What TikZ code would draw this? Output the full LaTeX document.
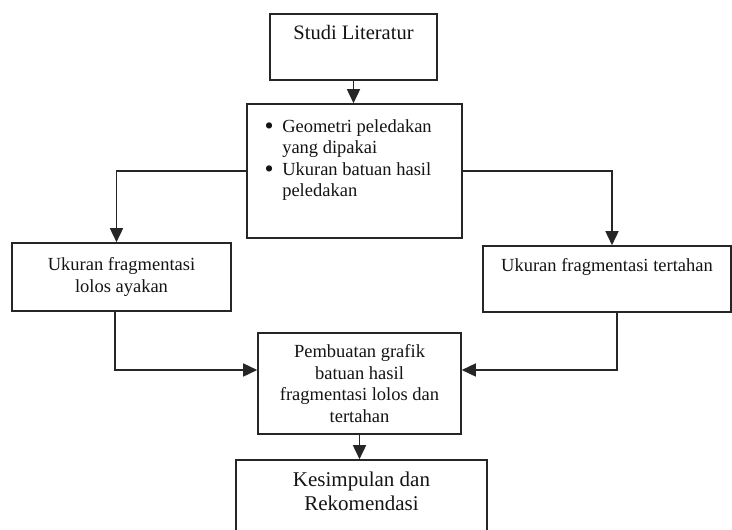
\documentclass[tikz,border=0pt]{standalone}
\usepackage{fontspec}
\setmainfont{Liberation Serif}
\usetikzlibrary{arrows.meta}
\newcommand{\bigbul}{\makebox[8pt]{\raisebox{-2pt}{\scalebox{1.4}{\textbullet}}}}
\begin{document}
\begin{tikzpicture}[x=1pt,y=-1pt,
  box/.style={draw=black!85, line width=1.6pt, rectangle, inner sep=0pt, align=center,
    text=black!92, font=\fontsize{18.5}{21.5}\selectfont},
  conn/.style={draw=black!85, line width=1.6pt},
  arr/.style={conn, -{Triangle[length=14pt,width=13pt]}}]
\useasboundingbox (0,0) rectangle (732,530);
\node[box, minimum width=167pt, minimum height=66pt, font=\fontsize{20.5}{23}\selectfont] (b1) at (353.5,47) {Studi Literatur\\ \strut};
\node[box, minimum width=215pt, minimum height=134pt] (b2) at (354.5,171)
  {\begin{tabular}{@{}l@{\hspace{9pt}}l@{}}\bigbul & Geometri peledakan\\ & yang dipakai\\ \bigbul & Ukuran batuan hasil\\ & peledakan\\ & \strut\end{tabular}\hspace*{12pt}};
\node[box, minimum width=219pt, minimum height=68pt] (bl) at (121.5,277) {Ukuran fragmentasi\\lolos ayakan};
\node[box, minimum width=248pt, minimum height=66pt] (br) at (607,279) {Ukuran fragmentasi tertahan\\ \strut};
\node[box, minimum width=203pt, minimum height=101pt] (bm) at (359.5,383.5) {Pembuatan grafik\\batuan hasil\\fragmentasi lolos dan\\tertahan};
\node[box, minimum width=251pt, minimum height=94pt, font=\fontsize{21}{24}\selectfont] (bk) at (361.5,507) {Kesimpulan dan\\Rekomendasi\\ \strut};
\draw[arr] (b1.south) -- (b1.south |- b2.north);
\draw[arr] (b2.west) -| ([xshift=-5pt]bl.north);
\draw[arr] (b2.east) -| ([xshift=5pt]br.north);
\draw[arr] ([xshift=-6.5pt]bl.south) |- ([yshift=13.5pt]bm.west);
\draw[arr] ([xshift=10pt]br.south) |- ([yshift=13.5pt]bm.east);
\draw[arr] (bm.south) -- (bm.south |- bk.north);
\end{tikzpicture}
\end{document}
